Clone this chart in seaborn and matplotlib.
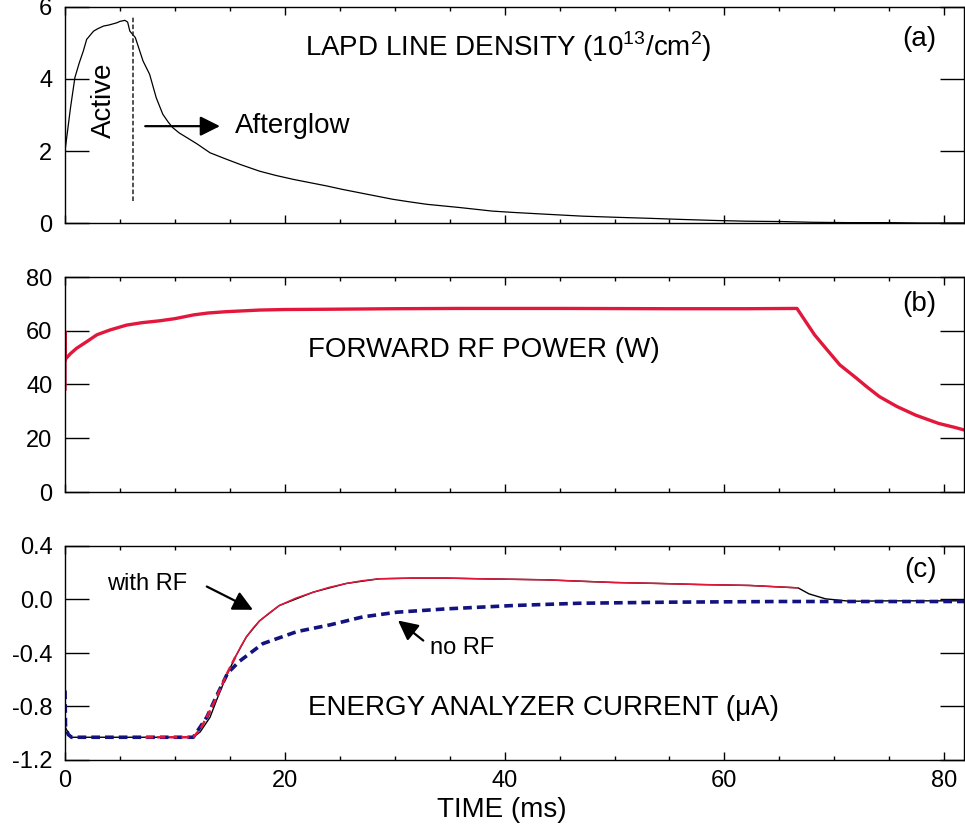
import matplotlib
matplotlib.use("Agg")
import matplotlib.pyplot as plt
from matplotlib.ticker import MultipleLocator
import seaborn as sns
import numpy as np

# ---------------- data ----------------
# (a) LAPD line density (10^13/cm^2)
t_a = [0, 0.5, 0.9, 1.3, 1.67, 1.97, 2.6, 3.0, 3.5, 4.0, 4.7, 5.0, 5.45, 5.7, 5.9, 6.4,
       7.1, 7.7, 8.3, 8.9, 9.4, 9.8, 10.4, 11.1, 12.0, 13.2, 14.7, 16.0, 17.7, 19.2,
       20.8, 22.3, 23.8, 25.3, 26.8, 28.3, 29.8, 31.3, 32.9, 35.9, 38.9, 41,
       44, 47.1, 50, 53.2, 56, 59.2, 62, 65.3, 68, 71.4, 75, 78, 81.8]
n_a = [2.0, 3.2, 4.04, 4.45, 4.78, 5.1, 5.33, 5.4, 5.47, 5.5, 5.56, 5.6, 5.63, 5.58,
       5.33, 5.15, 4.5, 4.13, 3.48, 3.02, 2.8, 2.65, 2.5, 2.37, 2.2, 1.95, 1.77, 1.62,
       1.44, 1.32, 1.21, 1.12, 1.03, 0.93, 0.84, 0.75, 0.66, 0.59, 0.52, 0.43, 0.33,
       0.29, 0.24, 0.19, 0.16, 0.13, 0.10, 0.07, 0.05, 0.04, 0.02, 0.01, 0.01, 0.0, 0.0]
active_end = 6.2

# (b) forward RF power (W)
t_b = [0, 0, 0, 0.05, 0.5, 1.06, 2.0, 2.9, 4.1, 5.6, 7, 8.6, 10, 11.7, 13, 14.7, 17.7,
       20, 23.8, 30, 35.9, 45, 55, 62, 66.6, 67.4, 68.2, 69.2, 70.5, 72.0, 73.0, 74.1,
       75.7, 77.4, 79.5, 81.0, 81.8]
p_b = [38, 59.6, 49, 49.5, 51.5, 53.5, 56, 58.5, 60.3, 62.1, 63, 63.7, 64.5, 65.9, 66.6,
       67.1, 67.7, 67.9, 68.0, 68.2, 68.3, 68.3, 68.2, 68.2, 68.3, 63.4, 58.5, 53.6,
       47.3, 42.4, 39.0, 35.5, 31.8, 28.6, 25.5, 24.0, 23.1]

# (c) energy analyzer current (uA)
t_rf_dash = [7.3, 11.67, 12.3, 12.9, 13.8, 14.7, 15.5]
i_rf_dash = [-1.03, -1.03, -0.97, -0.88, -0.73, -0.56, -0.43]
t_rf = [15.5, 16.0, 16.5, 17.1, 17.7, 18.6, 19.5, 21.0, 22.6, 24.0, 25.6, 27.0, 28.6,
        31.7, 34.7, 37.7, 43.8, 46.8, 50, 54, 57.7, 62.3, 66.7]
i_rf = [-0.43, -0.35, -0.28, -0.215, -0.16, -0.1, -0.045, 0.01, 0.055, 0.09, 0.12,
        0.14, 0.155, 0.16, 0.16, 0.155, 0.147, 0.137, 0.127, 0.12, 0.112, 0.105, 0.087]
t_norf = [0, 0.05, 0.3, 0.6, 11.67, 12.9, 13.8, 14.8, 15.9, 18.0, 21.1, 24.1, 27.1,
          30.2, 34.7, 40.8, 46.8, 55, 65, 75, 81.8]
i_norf = [-0.68, -0.955, -1.01, -1.03, -1.03, -0.88, -0.72, -0.55, -0.46, -0.33, -0.24,
          -0.19, -0.13, -0.095, -0.07, -0.045, -0.028, -0.02, -0.015, -0.015, -0.015]
t_base = [0, 0.5, 11.67, 12.3, 13.2, 13.9, 14.7, 15.5, 16.5, 17.7, 19.5, 22.6, 25.6,
          28.6, 31.7, 34.7, 37.7, 43.8, 46.8, 50, 54, 57.7, 62.3, 66.7, 67.7, 69.2,
          71.4, 75, 81.8]
i_base = [-0.95, -1.03, -1.03, -0.99, -0.88, -0.73, -0.57, -0.43, -0.28, -0.16, -0.045,
          0.055, 0.12, 0.155, 0.16, 0.16, 0.155, 0.147, 0.137, 0.127, 0.12, 0.112,
          0.105, 0.087, 0.042, 0.005, -0.013, -0.01, -0.01]

x_ticks = [0, 20, 40, 60, 80]
RED = "#e3173c"
NAVY = "#12137f"

# ---------------- style ----------------
sns.set_theme(style="ticks")
plt.rcParams["font.family"] = ["Liberation Sans", "DejaVu Sans"]
plt.rcParams["mathtext.fontset"] = "custom"
plt.rcParams["mathtext.rm"] = "Liberation Sans"
plt.rcParams["axes.linewidth"] = 1.0
plt.rcParams["text.color"] = "black"
plt.rcParams["axes.labelcolor"] = "black"
plt.rcParams["xtick.color"] = "black"
plt.rcParams["ytick.color"] = "black"
plt.rcParams["axes.edgecolor"] = "black"

fig = plt.figure(figsize=(9.65, 8.3), dpi=100)
W, H = 965, 830
left, right = 65, 964


def make_ax(top, bottom):
    return fig.add_axes([left / W, 1 - bottom / H, (right - left) / W, (bottom - top) / H])


ax_a = make_ax(7, 223)
ax_b = make_ax(277, 492)
ax_c = make_ax(546, 760)

for ax in (ax_a, ax_b, ax_c):
    ax.set_xlim(0, 81.8)
    ax.xaxis.set_major_locator(MultipleLocator(20))
    ax.xaxis.set_minor_locator(MultipleLocator(5))
    ax.tick_params(axis="x", which="major", direction="in", length=6, width=1.0,
                   top=True, bottom=True, labelsize=17, pad=7, colors="black")
    ax.tick_params(axis="x", which="minor", direction="in", length=3, width=1.0,
                   top=True, bottom=True, colors="black")
    ax.tick_params(axis="y", which="major", direction="in", length=17, width=1.0,
                   left=True, right=True, labelsize=17, pad=9, colors="black")
    for s in ax.spines.values():
        s.set_visible(True)
        s.set_color("black")
    ax.set_facecolor("white")

# (a)
sns.lineplot(x=t_a, y=n_a, ax=ax_a, color="black", linewidth=0.9, sort=False,
             estimator=None)
ax_a.plot([active_end, active_end], [0.6, 5.75], color="#222222", linewidth=1.1,
          dashes=(3, 1.5))
ax_a.set_ylim(0, 6)
ax_a.set_yticks([0, 2, 4, 6])
ax_a.tick_params(axis="x", labelbottom=False)
ax_a.text(21.8, 4.64, "LAPD LINE DENSITY (10$^{13}$/cm$^{2}$)", fontsize=20,
          ha="left", va="baseline", color="black")
ax_a.text(79.3, 5.11, "(a)", fontsize=20, ha="right", va="center", color="black")
ax_a.text(3.55, 3.4, "Active", fontsize=20, rotation=90, ha="center", va="center",
          color="black")
ax_a.text(15.45, 2.51, "Afterglow", fontsize=20, ha="left", va="baseline",
          color="black")
ax_a.annotate("", xy=(14.1, 2.69), xytext=(7.3, 2.69),
              arrowprops=dict(arrowstyle="-|>", color="black", lw=1.6,
                              mutation_scale=30, shrinkA=0, shrinkB=0))

# (b)
sns.lineplot(x=t_b, y=p_b, ax=ax_b, color=RED, linewidth=2.4, sort=False,
             estimator=None)
ax_b.set_ylim(0, 80)
ax_b.set_yticks([0, 20, 40, 60, 80])
ax_b.tick_params(axis="x", labelbottom=False)
ax_b.text(22.1, 50.3, "FORWARD RF POWER (W)", fontsize=20, ha="left", va="baseline",
          color="black")
ax_b.text(79.3, 70, "(b)", fontsize=20, ha="right", va="center", color="black")

# (c)
sns.lineplot(x=t_base, y=i_base, ax=ax_c, color="black", linewidth=1.0, sort=False,
             estimator=None)
sns.lineplot(x=t_norf, y=i_norf, ax=ax_c, color=NAVY, linewidth=2.6, sort=False,
             estimator=None)
ax_c.lines[-1].set_dashes([2.4, 1.4])
sns.lineplot(x=t_rf_dash, y=i_rf_dash, ax=ax_c, color=RED, linewidth=1.8, sort=False,
             estimator=None)
ax_c.lines[-1].set_dashes([3.2, 1.6])
sns.lineplot(x=t_rf, y=i_rf, ax=ax_c, color=RED, linewidth=1.1, sort=False,
             estimator=None)
ax_c.set_ylim(-1.2, 0.4)
ax_c.set_yticks([-1.2, -0.8, -0.4, 0.0, 0.4])
ax_c.set_yticklabels(["-1.2", "-0.8", "-0.4", "0.0", "0.4"])
ax_c.set_xticks(x_ticks)
ax_c.set_xticklabels([str(v) for v in x_ticks])
ax_c.set_xlabel("TIME (ms)", fontsize=20, labelpad=2, color="black")
ax_c.xaxis.set_label_coords(0.4855, -0.172)
ax_c.set_ylabel("")
ax_c.text(22.1, -0.867, "ENERGY ANALYZER CURRENT (\u03bcA)", fontsize=20, ha="left",
          va="baseline", color="black")
ax_c.text(79.3, 0.217, "(c)", fontsize=20, ha="right", va="center", color="black")
ax_c.text(3.8, 0.072, "with RF", fontsize=17, ha="left", va="baseline", color="black")
ax_c.annotate("", xy=(17.1, -0.077), xytext=(12.9, 0.097),
              arrowprops=dict(arrowstyle="-|>", color="black", lw=1.6,
                              mutation_scale=30, shrinkA=0, shrinkB=0))
ax_c.text(33.2, -0.404, "no RF", fontsize=17, ha="left", va="baseline", color="black")
ax_c.annotate("", xy=(30.3, -0.157), xytext=(32.6, -0.307),
              arrowprops=dict(arrowstyle="-|>", color="black", lw=1.6,
                              mutation_scale=30, shrinkA=0, shrinkB=0))

for ax in (ax_a, ax_b):
    ax.set_xlabel("")
    ax.set_ylabel("")

fig.savefig("out.png", dpi=100, facecolor="white")
